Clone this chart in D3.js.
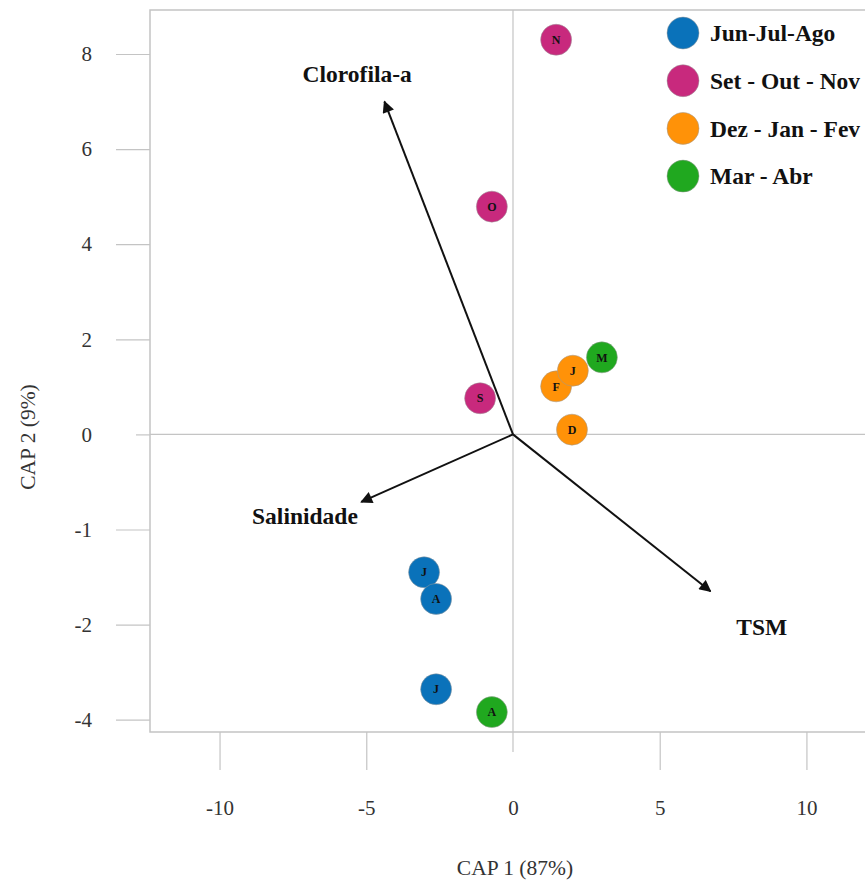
<!DOCTYPE html>
<html>
<head>
<meta charset="utf-8">
<script src="https://cdn.jsdelivr.net/npm/d3@7"></script>
<style>
  html, body { margin: 0; padding: 0; background: #fff; }
  svg { display: block; }
  text { font-family: "Liberation Serif", "DejaVu Serif", serif; }
</style>
</head>
<body>
<svg id="chart" width="865" height="882"></svg>
<script>
// ---- data ----
const groups = ["Jun-Jul-Ago", "Set - Out - Nov", "Dez - Jan - Fev", "Mar - Abr"];
const groupColors = ["#0a72ba", "#c8297d", "#ff9208", "#20a81f"];

const pointLabels = ["N", "O", "S", "F", "J", "M", "D", "J", "A", "J", "A"];
const pointGroup  = [1, 1, 1, 2, 2, 3, 2, 0, 0, 0, 3];
const pointX      = [1.47, -0.72, -1.12, 1.47, 2.04, 3.03, 2.01, -3.03, -2.62, -2.62, -0.72];
const pointY      = [8.3, 4.79, 0.76, 1.01, 1.34, 1.62, 0.1, -1.45, -1.73, -3.36, -3.84];

const vectorNames = ["Clorofila-a", "Salinidade", "TSM"];
const vectorX     = [-4.38, -5.17, 6.73];
const vectorY     = [7.0, -0.71, -1.65];
const vectorLabelX = [-5.31, -7.09, 8.48];
const vectorLabelY = [7.52, -0.89, -2.1];

const xTicks = [-10, -5, 0, 5, 10];
const yTicks = [8, 6, 4, 2, 0, -1, -2, -4];
const yTickLabels = ["8", "6", "4", "2", "0", "-1", "-2", "-4"];
const xTitle = "CAP 1 (87%)";
const yTitle = "CAP 2 (9%)";

// ---- layout ----
const FONT = "'Liberation Serif', 'DejaVu Serif', serif";
const svg = d3.select("#chart");
const frame = { left: 150, top: 10, right: 866, bottom: 732 };
const x = d3.scaleLinear().domain([-12.37, 12.03]).range([frame.left, frame.right]);
const yTop = 54, yStep = 95.1;
const y = d3.scaleLinear()
  .domain(yTicks)
  .range(yTicks.map((d, i) => yTop + i * yStep));

// frame (left, top, bottom borders)
svg.append("path")
  .attr("d", `M${frame.right},${frame.top}H${frame.left}V${frame.bottom}H${frame.right}`)
  .attr("fill", "none").attr("stroke", "#c4c4c4").attr("stroke-width", 1.5);

// zero lines
svg.append("line")
  .attr("x1", frame.left).attr("x2", frame.right)
  .attr("y1", y(0)).attr("y2", y(0))
  .attr("stroke", "#c4c4c4").attr("stroke-width", 1.2);
svg.append("line")
  .attr("x1", x(0)).attr("x2", x(0))
  .attr("y1", frame.top).attr("y2", frame.bottom + 20)
  .attr("stroke", "#c4c4c4").attr("stroke-width", 1.2);

// x axis
const xAxis = svg.append("g")
  .attr("transform", `translate(0,${frame.bottom})`)
  .call(d3.axisBottom(x).tickValues(xTicks).tickSize(38).tickPadding(30).tickFormat(d3.format("d")));
xAxis.attr("font-family", null);
xAxis.select(".domain").remove();
xAxis.selectAll(".tick line").attr("stroke", "#c4c4c4").attr("stroke-width", 1.2)
  .filter(d => d === 0).remove();
xAxis.selectAll(".tick text")
  .attr("font-size", 21).attr("fill", "#333")
  .style("font-family", FONT)
  .text(d => d < 0 ? "-" + Math.abs(d) : d);

// y axis
const yAxis = svg.append("g")
  .attr("transform", `translate(${frame.left},0)`)
  .call(d3.axisLeft(y).tickValues(yTicks).tickSize(34).tickPadding(24)
    .tickFormat((d, i) => yTickLabels[i]));
yAxis.attr("font-family", null);
yAxis.select(".domain").remove();
yAxis.selectAll(".tick line").attr("stroke", "#c4c4c4").attr("stroke-width", 1.2)
  .attr("x2", d => d === 0 ? -14 : -34);
yAxis.selectAll(".tick text")
  .attr("font-size", 21).attr("fill", "#333")
  .style("font-family", FONT);

// axis titles
svg.append("text")
  .attr("x", x(0) + 2).attr("y", 875)
  .attr("text-anchor", "middle").attr("font-size", 21.5).attr("fill", "#333")
  .text(xTitle);
svg.append("text")
  .attr("transform", `translate(35,437) rotate(-90)`)
  .attr("text-anchor", "middle").attr("font-size", 21.5).attr("fill", "#333")
  .text(yTitle);

// arrowhead marker
svg.append("defs").append("marker")
  .attr("id", "arrow")
  .attr("viewBox", "0 0 10 10")
  .attr("refX", 9).attr("refY", 5)
  .attr("markerWidth", 7).attr("markerHeight", 6)
  .attr("markerUnits", "strokeWidth")
  .attr("orient", "auto")
  .append("path").attr("d", "M0,0L10,5L0,10z").attr("fill", "#111");

// vectors
const vectors = vectorNames.map((n, i) => ({ n, x: vectorX[i], y: vectorY[i], lx: vectorLabelX[i], ly: vectorLabelY[i] }));
svg.selectAll(".vec").data(vectors).enter().append("line")
  .attr("x1", x(0)).attr("y1", y(0))
  .attr("x2", d => x(d.x)).attr("y2", d => y(d.y))
  .attr("stroke", "#111").attr("stroke-width", 2)
  .attr("marker-end", "url(#arrow)");
svg.selectAll(".vlab").data(vectors).enter().append("text")
  .attr("x", d => x(d.lx)).attr("y", d => y(d.ly))
  .attr("text-anchor", "middle").attr("dominant-baseline", "middle")
  .attr("font-size", 23.5).attr("font-weight", "bold").attr("fill", "#111")
  .text(d => d.n);

// points
const pts = pointLabels.map((l, i) => ({ l, g: pointGroup[i], x: pointX[i], y: pointY[i] }));
const pg = svg.selectAll(".pt").data(pts).enter().append("g")
  .attr("transform", d => `translate(${x(d.x)},${y(d.y)})`);
pg.append("circle").attr("r", 15.5)
  .attr("fill", d => groupColors[d.g])
  .attr("stroke", "#999").attr("stroke-opacity", 0.5).attr("stroke-width", 1);
pg.append("text")
  .attr("text-anchor", "middle").attr("dy", "0.35em")
  .attr("font-size", 12).attr("font-weight", "bold").attr("fill", "#111")
  .text(d => d.l);

// legend
const lg = svg.selectAll(".leg").data(groups).enter().append("g")
  .attr("transform", (d, i) => `translate(683,${33 + i * 47.7})`);
lg.append("circle").attr("r", 16)
  .attr("fill", (d, i) => groupColors[i])
  .attr("stroke", "#999").attr("stroke-opacity", 0.5);
lg.append("text")
  .attr("x", 27).attr("dy", "0.35em")
  .attr("font-size", 23.5).attr("font-weight", "bold").attr("fill", "#111")
  .text(d => d);
</script>
</body>
</html>
